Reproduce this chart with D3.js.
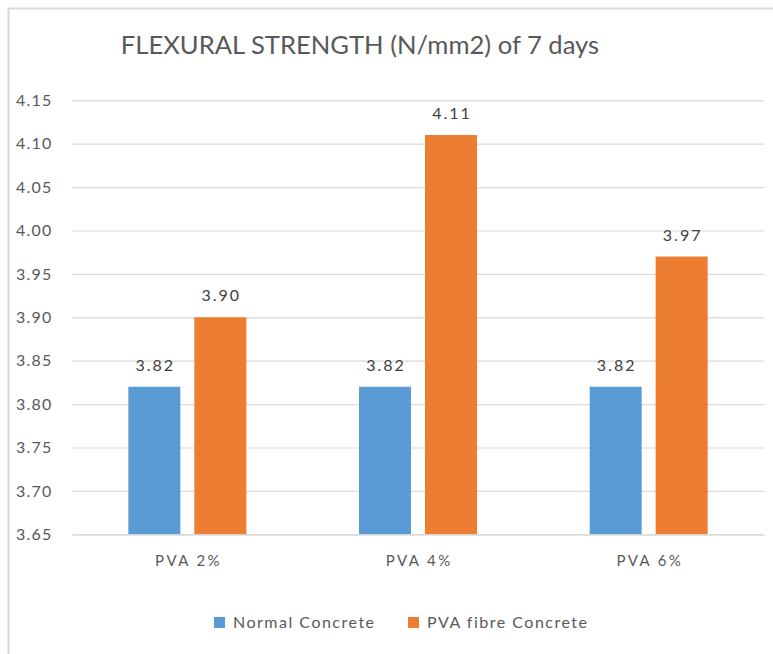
<!DOCTYPE html>
<html>
<head>
<meta charset="utf-8">
<script src="https://cdn.jsdelivr.net/npm/d3@7"></script>
<style>
  html, body { margin: 0; padding: 0; background: #fff; }
  svg { display: block; }
  text { font-family: Lato, "Open Sans", sans-serif; }
</style>
</head>
<body>
<svg id="chart" width="773" height="654"></svg>
<script>
// Flexural strength at 7 days, normal vs PVA fibre concrete
const categories = ["PVA 2%", "PVA 4%", "PVA 6%"];
const seriesNames = ["Normal Concrete", "PVA fibre Concrete"];
const normalConcrete = [3.82, 3.82, 3.82];
const pvaFibreConcrete = [3.90, 4.11, 3.97];
const yTicks = [3.65, 3.70, 3.75, 3.80, 3.85, 3.90, 3.95, 4.00, 4.05, 4.10, 4.15];
const seriesColors = ["#5B9BD5", "#ED7D31"];
const titleText = "FLEXURAL STRENGTH (N/mm2) of 7 days";

const seriesValues = [normalConcrete, pvaFibreConcrete];

const svg = d3.select("#chart");

// chart frame
svg.append("rect")
  .attr("x", 8.5).attr("y", 8.5)
  .attr("width", 900).attr("height", 900)
  .attr("fill", "#fff")
  .attr("stroke", "#d9d9d9")
  .attr("stroke-width", 2);

const plot = { left: 72, right: 764, top: 100.3, bottom: 534.3 };

const y = d3.scaleLinear()
  .domain([3.65, 4.15])
  .range([plot.bottom, plot.top]);

const x0 = d3.scaleBand()
  .domain(categories)
  .range([plot.left, plot.right])
  .paddingInner(0.4884)
  .paddingOuter(0.2442);

const x1 = d3.scaleBand()
  .domain(seriesNames)
  .range([0, x0.bandwidth()])
  .paddingInner(14 / 66);

// title
svg.append("text")
  .attr("x", 360)
  .attr("y", 54)
  .attr("text-anchor", "middle")
  .attr("font-size", 25.6)
  .attr("fill", "#595959")
  .text(titleText);

// gridlines + y tick labels via axis
const yAxis = d3.axisLeft(y)
  .tickValues(yTicks)
  .tickFormat(d3.format(".2f"))
  .tickSize(-(plot.right - plot.left))
  .tickPadding(19);

const gy = svg.append("g")
  .attr("transform", `translate(${plot.left},0)`)
  .call(yAxis);
gy.select(".domain").remove();
gy.selectAll(".tick line")
  .attr("stroke", "#d9d9d9")
  .attr("stroke-width", 1.2);
gy.selectAll(".tick text")
  .attr("fill", "#595959")
  .attr("font-size", 16)
  .attr("letter-spacing", 1.2)
  .attr("font-family", "Lato, 'Open Sans', sans-serif")
  .attr("text-anchor", "start")
  .attr("x", 16 - plot.left);

// bars
const groups = svg.append("g").selectAll("g")
  .data(categories)
  .join("g")
  .attr("transform", d => `translate(${x0(d)},0)`);

groups.each(function(cat, ci) {
  const g = d3.select(this);
  const rows = seriesNames.map((s, si) => ({ s, si, v: seriesValues[si][ci] }));
  g.selectAll("rect")
    .data(rows)
    .join("rect")
    .attr("x", d => x1(d.s))
    .attr("y", d => y(d.v))
    .attr("width", x1.bandwidth())
    .attr("height", d => plot.bottom - y(d.v))
    .attr("fill", d => seriesColors[d.si]);
  g.selectAll("text.val")
    .data(rows)
    .join("text")
    .attr("class", "val")
    .attr("x", d => x1(d.s) + x1.bandwidth() / 2 + 1)
    .attr("y", d => y(d.v) - 16)
    .attr("text-anchor", "middle")
    .attr("font-size", 16)
    .attr("letter-spacing", 2)
    .attr("fill", "#404040")
    .text(d => d.v.toFixed(2));
});

// category axis labels
const xAxis = d3.axisBottom(x0).tickSize(0).tickPadding(21);
const gx = svg.append("g")
  .attr("transform", `translate(0,${plot.bottom})`)
  .call(xAxis);
gx.select(".domain")
  .attr("stroke", "#d9d9d9")
  .attr("stroke-width", 1.2);
gx.selectAll(".tick text")
  .attr("fill", "#595959")
  .attr("font-size", 15)
  .attr("letter-spacing", 2.4)
  .attr("dx", 1.2)
  .attr("font-family", "Lato, 'Open Sans', sans-serif");

// legend
const legendItems = [
  { name: seriesNames[0], color: seriesColors[0], x: 214 },
  { name: seriesNames[1], color: seriesColors[1], x: 408 }
];
const lg = svg.append("g").selectAll("g")
  .data(legendItems)
  .join("g")
  .attr("transform", d => `translate(${d.x},0)`);
lg.append("rect")
  .attr("x", 0).attr("y", 617)
  .attr("width", 11).attr("height", 11)
  .attr("fill", d => d.color);
lg.append("text")
  .attr("x", 19).attr("y", 628)
  .attr("font-size", 16)
  .attr("letter-spacing", 1.5)
  .attr("fill", "#595959")
  .text(d => d.name);
</script>
</body>
</html>
